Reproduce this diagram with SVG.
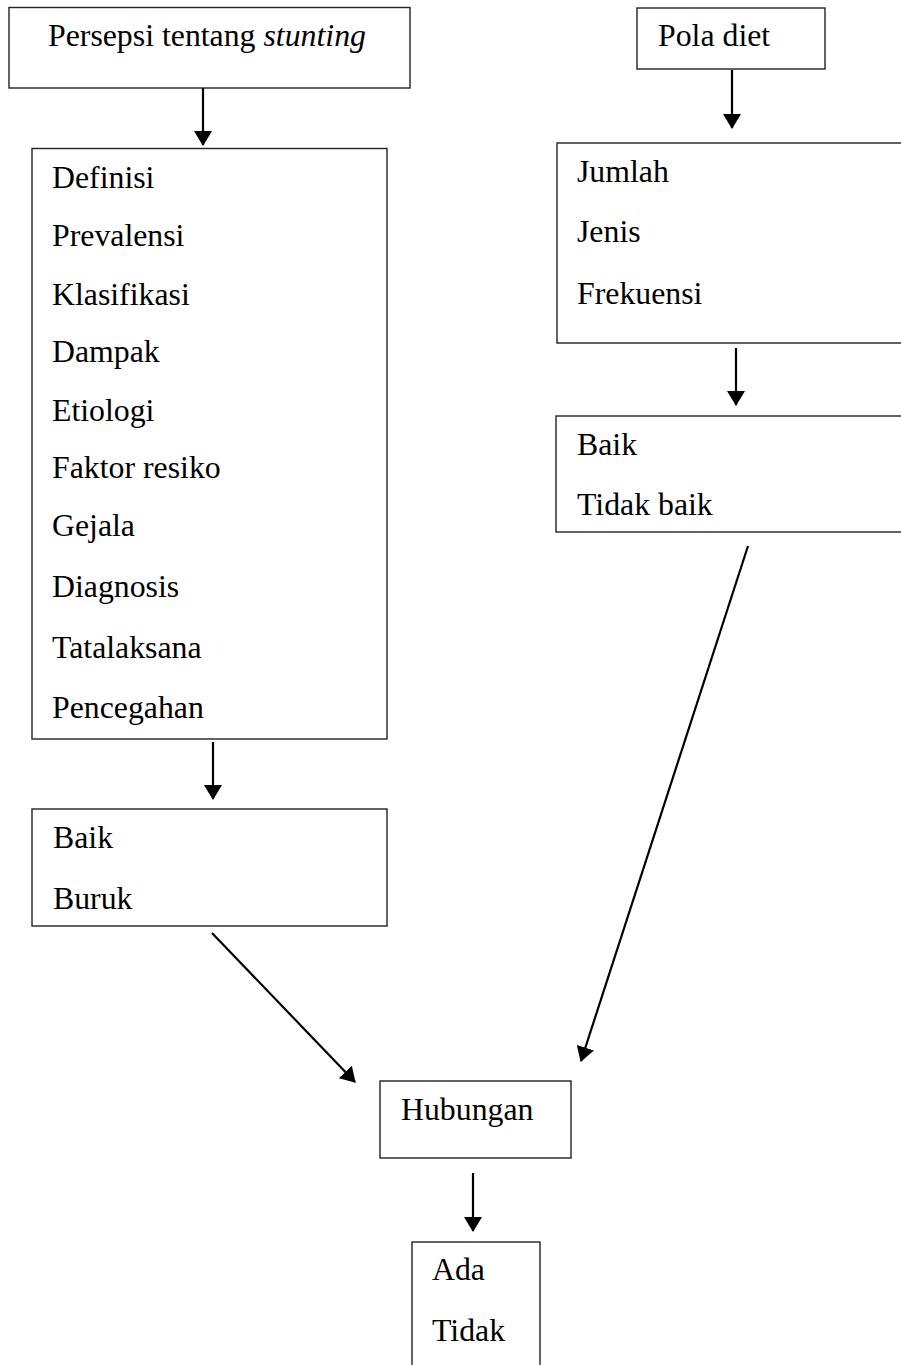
<svg xmlns="http://www.w3.org/2000/svg" width="901" height="1365" viewBox="0 0 901 1365">
<style>
.box{fill:#fff;stroke:#222;stroke-width:1.4}
.t{font-family:"Liberation Serif","Times New Roman",serif;font-size:31.8px;fill:#000}
.c{stroke:#000;stroke-width:2.2;fill:none}
</style>
<defs>
<marker id="ah" markerUnits="userSpaceOnUse" viewBox="0 -9 15 18" refX="14" refY="0" markerWidth="15" markerHeight="18" orient="auto">
<path d="M0,-9 L15,0 L0,9 z" fill="#000"/>
</marker>
</defs>
<rect width="901" height="1365" fill="#fff"/>
<g id="node-persepsi">
<rect class="box" x="9" y="7.5" width="401" height="80.5"/>
<text class="t" x="48" y="46">Persepsi tentang <tspan font-style="italic">stunting</tspan></text>
</g>
<g id="node-list">
<rect class="box" x="32" y="148.5" width="355" height="590.5"/>
<text class="t" x="52" y="188">Definisi</text>
<text class="t" x="52" y="246">Prevalensi</text>
<text class="t" x="52" y="305">Klasifikasi</text>
<text class="t" x="52" y="362">Dampak</text>
<text class="t" x="52" y="421">Etiologi</text>
<text class="t" x="52" y="478">Faktor resiko</text>
<text class="t" x="52" y="536">Gejala</text>
<text class="t" x="52" y="597">Diagnosis</text>
<text class="t" x="52" y="658">Tatalaksana</text>
<text class="t" x="52" y="718">Pencegahan</text>
</g>
<g id="node-baikburuk">
<rect class="box" x="32" y="809" width="355" height="117"/>
<text class="t" x="53" y="848">Baik</text>
<text class="t" x="53" y="909">Buruk</text>
</g>
<g id="node-pola">
<rect class="box" x="637" y="8" width="188" height="61"/>
<text class="t" x="658" y="46">Pola diet</text>
</g>
<g id="node-jumlah">
<rect class="box" x="557" y="143" width="360" height="200"/>
<text class="t" x="577" y="182">Jumlah</text>
<text class="t" x="577" y="242">Jenis</text>
<text class="t" x="577" y="304">Frekuensi</text>
</g>
<g id="node-baiktidak">
<rect class="box" x="556" y="416" width="360" height="116"/>
<text class="t" x="577" y="455">Baik</text>
<text class="t" x="577" y="515">Tidak baik</text>
</g>
<g id="node-hubungan">
<rect class="box" x="380" y="1081" width="191" height="77"/>
<text class="t" x="401" y="1120">Hubungan</text>
</g>
<g id="node-ada">
<rect class="box" x="412" y="1242" width="128" height="140"/>
<text class="t" x="432" y="1280">Ada</text>
<text class="t" x="432" y="1341">Tidak</text>
</g>
<g id="connectors">
<line class="c" x1="203" y1="88" x2="203" y2="145" marker-end="url(#ah)"/>
<line class="c" x1="732" y1="70" x2="732" y2="128" marker-end="url(#ah)"/>
<line class="c" x1="736" y1="348" x2="736" y2="405" marker-end="url(#ah)"/>
<line class="c" x1="213" y1="742" x2="213" y2="799" marker-end="url(#ah)"/>
<line class="c" x1="473" y1="1173" x2="473" y2="1231" marker-end="url(#ah)"/>
<line class="c" x1="212" y1="933" x2="355" y2="1082" marker-end="url(#ah)"/>
<line class="c" x1="748" y1="546" x2="581" y2="1061" marker-end="url(#ah)"/>
</g>
</svg>
